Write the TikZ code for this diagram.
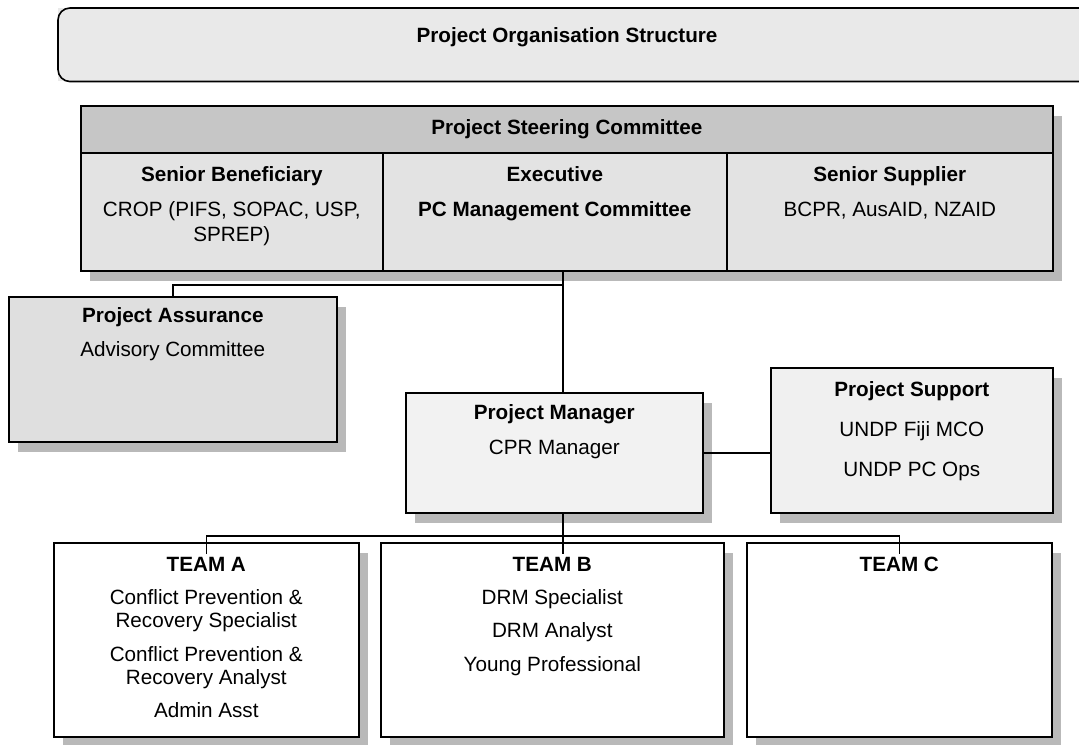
\documentclass[tikz,border=0pt]{standalone}
\usepackage{fontspec}
\setmainfont{Liberation Sans}
\usetikzlibrary{positioning, shadows}
\begin{document}
\begin{tikzpicture}[x = .75pt, y = -.75pt,
  every node/.style = {font = \fontsize{15.5}{17.5}\selectfont},
  box/.style = {draw, line width = 1.2pt, anchor = north west,
    inner sep = 0pt},
  shbox/.style = {box, drop shadow = {shadow xshift = 7pt,
    shadow yshift = -7.5pt, fill = gray!55, opacity = 1}},
  txt/.style = {align = center, inner sep = 2pt},
  link/.style = {line width = 1.2pt}]
  \useasboundingbox (0, 0) rectangle (1079, 744);
  \node[anchor = north west, inner sep = 0pt, fill = gray!17,
  minimum width = 1030*.75pt, minimum height = 73*.75pt] (org) at (58, 8)
  {};
  \draw[link, rounded corners = 9pt] (org.north east) -- (org.north west)
  -- (org.south west) -- (org.south east);
  \node[txt, font = \fontsize{15.5}{17.5}\selectfont\bfseries] (orgtitle) at
  (567, 37) {Project Organisation Structure};
  \node[shbox, fill = gray!45, minimum width = 972*.75pt,
  minimum height = 47*.75pt] (steerhead) at (80, 105) {};
  \node[txt, font = \fontsize{15.5}{17.5}\selectfont\bfseries]
  (steertitle) at (steerhead.center) {Project Steering Committee};
  \node[shbox, fill = gray!22, minimum width = 302*.75pt,
  minimum height = 118*.75pt] (bene) at (80, 152) {};
  \node[shbox, fill = gray!22, minimum width = 344*.75pt,
  minimum height = 118*.75pt] (exec) at (382, 152) {};
  \node[shbox, fill = gray!22, minimum width = 326*.75pt,
  minimum height = 118*.75pt] (supl) at (726, 152) {};
  \node[txt, below = 9pt of bene.north] (benetxt)
  {\textbf{Senior Beneficiary}\\[8.5pt] CROP (PIFS, SOPAC, USP,\\[1pt]
  SPREP)};
  \node[txt, below = 9pt of exec.north] (exectxt)
  {\textbf{Executive}\\[8.5pt] \textbf{PC Management Committee}};
  \node[txt, below = 9pt of supl.north] (supltxt)
  {\textbf{Senior Supplier}\\[8.5pt] BCPR, AusAID, NZAID};
  \node[shbox, fill = gray!25, minimum width = 328*.75pt,
  minimum height = 145*.75pt] (assure) at (8, 296) {};
  \node[txt, below = 6.75pt of assure.north] (assuretxt)
  {\textbf{Project Assurance}\\[8pt] Advisory Committee};
  \node[shbox, fill = gray!10, minimum width = 297*.75pt,
  minimum height = 120*.75pt] (pm) at (405, 392) {};
  \node[txt, below = 7.5pt of pm.north] (pmtxt)
  {\textbf{Project Manager}\\[8.5pt] CPR Manager};
  \node[shbox, fill = gray!12, minimum width = 282*.75pt,
  minimum height = 145*.75pt] (support) at (770, 367) {};
  \node[txt, below = 9pt of support.north] (supporttxt)
  {\textbf{Project Support}\\[12.5pt] UNDP Fiji MCO\\[12.5pt] UNDP PC Ops};
  \node[shbox, fill = white, minimum width = 305*.75pt,
  minimum height = 194*.75pt] (teama) at (53, 542) {};
  \node[shbox, fill = white, minimum width = 343*.75pt,
  minimum height = 194*.75pt] (teamb) at (380, 542) {};
  \node[shbox, fill = white, minimum width = 305*.75pt,
  minimum height = 194*.75pt] (teamc) at (746, 542) {};
  \node[txt, below = 9pt of teama.north] (teamatxt)
  {\textbf{TEAM A}\\[7.5pt] Conflict Prevention \&\\ Recovery Specialist\\[7.5pt]
  Conflict Prevention \&\\ Recovery Analyst\\[7.5pt] Admin Asst};
  \node[txt, below = 9pt of teamb.north] (teambtxt)
  {\textbf{TEAM B}\\[7.5pt] DRM Specialist\\[7.5pt] DRM Analyst\\[7.5pt]
  Young Professional};
  \node[txt, below = 9pt of teamc.north] (teamctxt) {\textbf{TEAM C}};
  \coordinate (trunk) at (563, 285);
  \coordinate (bus) at (563, 536);
  \draw[link] (trunk |- exec.south) -- (trunk |- pm.north);
  \draw[link] (trunk) -| (assure.north);
  \draw[link] (pm.east) -- (pm.east -| support.west);
  \draw[link] (trunk |- pm.south) -- (trunk |- teambtxt.north);
  \draw[link] (teamatxt.north) |- (bus) -| (teamctxt.north);
\end{tikzpicture}
\end{document}
